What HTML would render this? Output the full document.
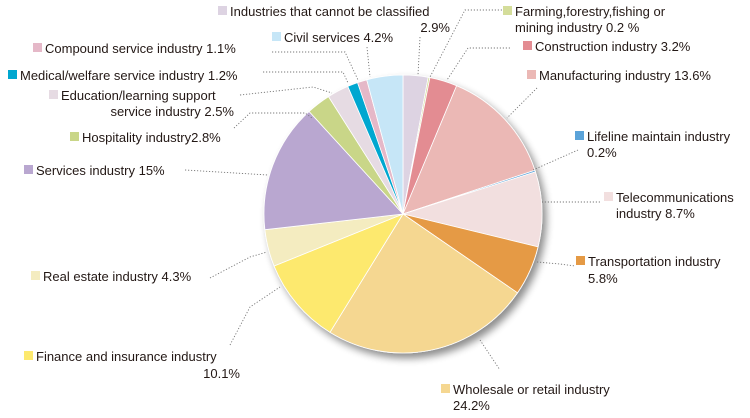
<!DOCTYPE html>
<html><head><meta charset="utf-8">
<style>
html,body{margin:0;padding:0;background:#fff;}
svg{display:block;font-family:"Liberation Sans","Noto Sans CJK JP",sans-serif;}
text{font-size:13px;fill:#231815;}
</style></head>
<body>
<svg id="chart" width="750" height="418" viewBox="0 0 750 418">
<defs>
<filter id="sh" x="-20%" y="-20%" width="140%" height="140%">
<feGaussianBlur in="SourceAlpha" stdDeviation="4"/>
<feOffset dx="4" dy="5" result="b"/>
<feComponentTransfer><feFuncA type="linear" slope="0.45"/></feComponentTransfer>
<feMerge><feMergeNode/><feMergeNode in="SourceGraphic"/></feMerge>
</filter>
</defs>
<g id="pie" filter="url(#sh)"></g>
<g id="leaders"></g>
<g id="labels"></g>
</svg>
<script>
const categories = ["Industries that cannot be classified","Farming,forestry,fishing or mining industry","Construction industry","Manufacturing industry","Lifeline maintain industry","Telecommunications industry","Transportation industry","Wholesale or retail industry","Finance and insurance industry","Real estate industry","Services industry","Hospitality industry","Education/learning support service industry","Medical/welfare service industry","Compound service industry","Civil services"];
const values = [2.9,0.2,3.2,13.6,0.2,8.7,5.8,24.2,10.1,4.3,15,2.8,2.5,1.2,1.1,4.2];
const valueLabels = ["2.9%","0.2 %","3.2%","13.6%","0.2%","8.7%","5.8%","24.2%","10.1%","4.3%","15%","2.8%","2.5%","1.2%","1.1%","4.2%"];
const colors = ["#ddd3e2","#d4dd9a","#e38c92","#ebb8b5","#5ba3d9","#f2dfdf","#e59a45","#f5d791","#fde96e","#f4ecc0","#b9a7d0","#c9d688","#e6dbe3","#00a7d0","#e5b8c8","#c6e6f7"];

const NS="http://www.w3.org/2000/svg";
const cx=403, cy=214, r=139;
const total=values.reduce((a,b)=>a+b,0);
function angle(v){return v/total*Math.PI*2;}
function pt(a){return [cx+r*Math.sin(a), cy-r*Math.cos(a)];}
const pie=document.getElementById('pie');
let acc=0;
values.forEach((v,i)=>{
  const a0=angle(acc), a1=angle(acc+v); acc+=v;
  const p0=pt(a0), p1=pt(a1);
  const large=(a1-a0)>Math.PI?1:0;
  const p=document.createElementNS(NS,'path');
  p.setAttribute('d',`M${cx},${cy} L${p0[0]},${p0[1]} A${r},${r} 0 ${large} 1 ${p1[0]},${p1[1]} Z`);
  p.setAttribute('fill',colors[i]);
  p.setAttribute('stroke','#fff');
  p.setAttribute('stroke-width','0.8');
  
  
  pie.appendChild(p);
});

// label layout (positions only): [squareX, baselineY, lines[], align for line2, line2X]
const layout=[
 {sx:218,y:16,l:[categories[0]],l2:valueLabels[0],x2:450,a2:'end',y2:32},
 {sx:503,y:16,l:["Farming,forestry,fishing or"],l2:"mining industry "+valueLabels[1],x2:515,a2:'start',y2:32},
 {sx:523,y:51,l:[categories[2]+" "+valueLabels[2]]},
 {sx:527,y:80,l:[categories[3]+" "+valueLabels[3]]},
 {sx:575,y:141,l:[categories[4]],l2:valueLabels[4],x2:587,a2:'start',y2:157},
 {sx:604,y:202,l:["Telecommunications"],l2:"industry  "+valueLabels[5],x2:616,a2:'start',y2:218},
 {sx:576,y:266,l:[categories[6]],l2:valueLabels[6],x2:588,a2:'start',y2:283},
 {sx:441,y:394,l:[categories[7]],l2:valueLabels[7],x2:453,a2:'start',y2:410},
 {sx:24,y:361,l:[categories[8]],l2:valueLabels[8],x2:240,a2:'end',y2:378},
 {sx:31,y:281,l:[categories[9]+" "+valueLabels[9]]},
 {sx:24,y:175,l:[categories[10]+" "+valueLabels[10]]},
 {sx:70,y:142,l:["Hospitality industry"+valueLabels[11]]},
 {sx:49,y:100,l:["Education/learning support"],l2:"service industry "+valueLabels[12],x2:234,a2:'end',y2:116},
 {sx:8,y:80,l:[categories[13]+" "+valueLabels[13]]},
 {sx:33,y:53,l:[categories[14]+" "+valueLabels[14]]},
 {sx:272,y:42,l:[categories[15]+" "+valueLabels[15]]}
];
const labels=document.getElementById('labels');
layout.forEach((L,i)=>{
  const g=document.createElementNS(NS,'g');
  
  
  const sq=document.createElementNS(NS,'rect');
  sq.setAttribute('x',L.sx);sq.setAttribute('y',L.y-10);sq.setAttribute('width',9);sq.setAttribute('height',9);
  sq.setAttribute('fill',colors[i]);
  
  
  g.appendChild(sq);
  const t=document.createElementNS(NS,'text');
  t.setAttribute('x',L.sx+12);t.setAttribute('y',L.y);t.textContent=L.l[0];
  
  
  g.appendChild(t);
  if(L.l2){
    const t2=document.createElementNS(NS,'text');
    t2.setAttribute('x',L.x2);t2.setAttribute('y',L.y2);t2.setAttribute('text-anchor',L.a2);t2.textContent=L.l2;
    
    
    g.appendChild(t2);
  }
  labels.appendChild(g);
});

const leaderPts=[
 "420,37 418,75","502,10 465,10 430,77","510,48 468,48 447,80","537,88 507,118","578,150 533,170",
 "600,202 542,202","537,262 560,264 575,266","480,340 500,370","230,345 250,307 280,287","210,278 250,257 267,252",
 "185,170 268,175","234,128 250,113 305,113 312,118","240,95 313,87 332,93","263,72 343,72 348,83",
 "272,52 345,52 358,80","367,47 370,77"
];
const leaders=document.getElementById('leaders');
leaderPts.forEach((s,i)=>{
  const pl=document.createElementNS(NS,'polyline');
  pl.setAttribute('points',s);
  pl.setAttribute('fill','none');pl.setAttribute('stroke','#777');
  pl.setAttribute('stroke-width','0.9');pl.setAttribute('stroke-dasharray','1.2,1.8');
  
  
  leaders.appendChild(pl);
});
</script>
</body></html>
